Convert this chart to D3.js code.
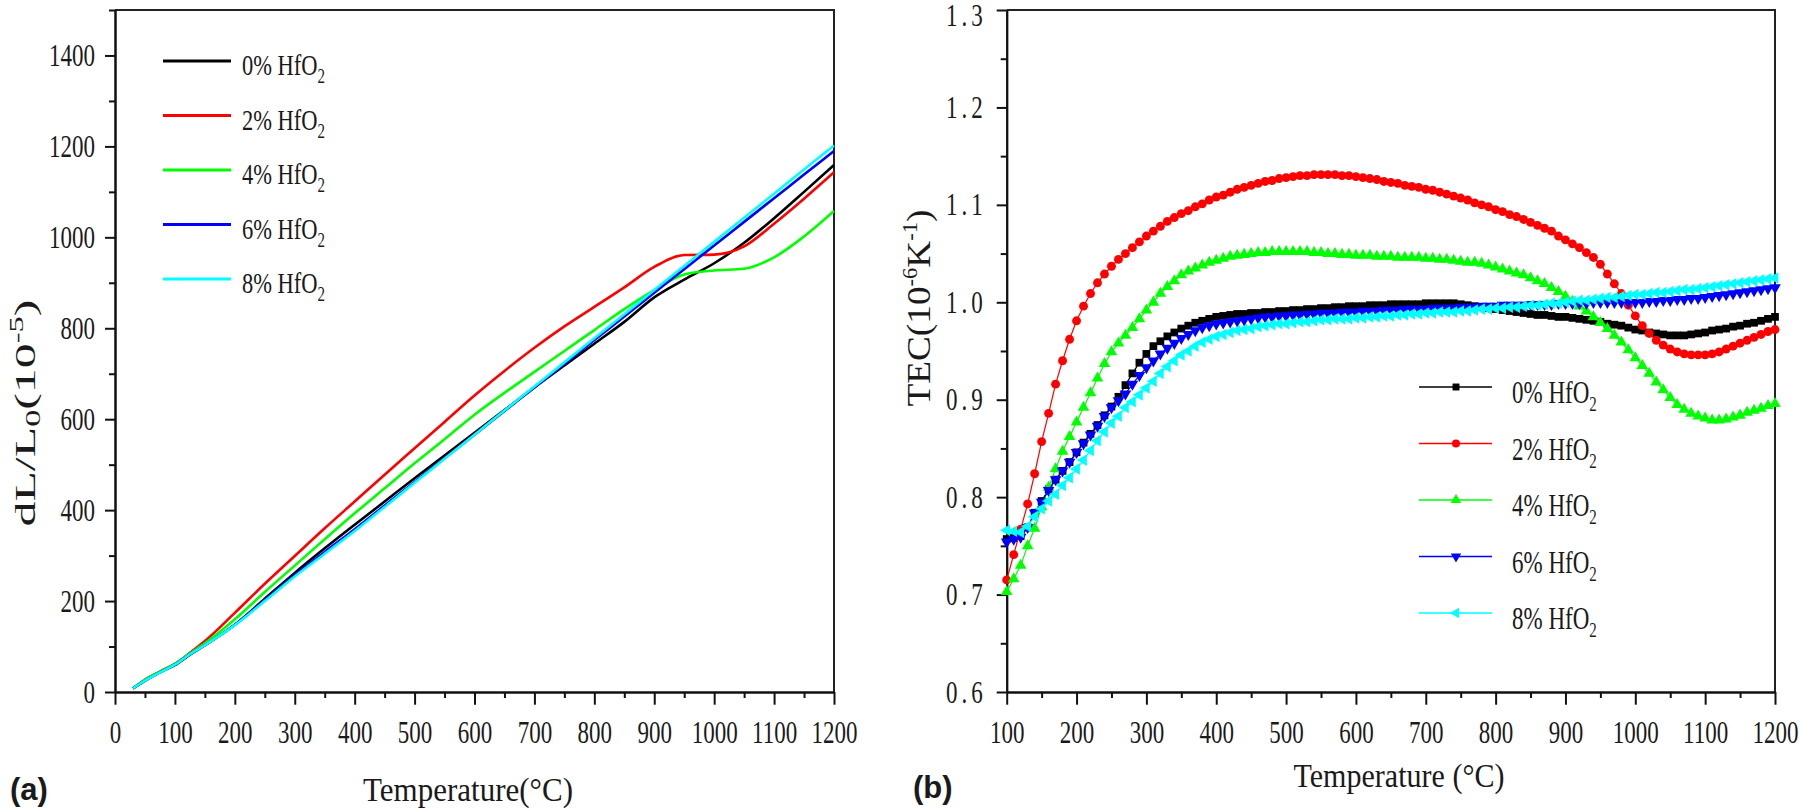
<!DOCTYPE html>
<html><head><meta charset="utf-8">
<script src="https://cdn.jsdelivr.net/npm/d3@7"></script>
<style>
body{margin:0;background:#fff}
svg text{font-family:"Liberation Serif","Times New Roman",serif;fill:#1a1a1a}
.sy{transform-box:fill-box;transform-origin:50% 50%;transform:scaleY(1.35)}
</style></head>
<body><svg id="chart" width="1800" height="810"></svg>
<script>
// ---------- DATA ----------
const seriesNames = ["0% HfO", "2% HfO", "4% HfO", "6% HfO", "8% HfO"];
const seriesColors = ["#000000", "#ff0000", "#00ff00", "#0000ff", "#00ffff"];

// Panel (a): dL/L0 (10^-5) vs temperature
const tempA = [30,50,75,100,125,150,200,250,300,350,400,450,500,550,600,650,700,750,800,850,900,950,1000,1050,1100,1150,1200];
const dl0 = [8,25,44,59,82,103,148,205,262,316,368,419,470,520,570,620,670,718,766,814,868,907,943,988,1042,1100,1159];
const dl2 = [8,27,45,62,86,112,174,238,299,360,419,478,536,594,652,706,757,804,847,890,935,961,962,980,1030,1085,1143];
const dl4 = [8,27,45,62,85,107,160,220,278,336,393,448,503,556,610,658,704,750,796,842,884,918,927,931,956,1002,1058];
const dl6 = [8,25,43,60,83,103,148,202,257,308,358,410,462,514,566,618,670,722,774,826,878,930,982,1034,1086,1138,1190];
const dl8 = [8,25,43,60,83,103,147,200,254,304,354,407,460,513,566,619,672,725,778,831,884,937,990,1043,1096,1149,1202];

// Panel (b): TEC (10^-6 K^-1) vs temperature, 100..1200 step 10
const tempB = d3.range(100, 1201, 10);
const tec0 = [0.757,0.758,0.760,0.769,0.784,0.796,0.808,0.818,0.827,0.836,
0.846,0.856,0.865,0.874,0.884,0.893,0.903,0.915,0.927,0.938,
0.947,0.955,0.960,0.965,0.969,0.973,0.976,0.979,0.981,0.983,
0.985,0.986,0.987,0.988,0.988,0.989,0.989,0.990,0.990,0.991,
0.991,0.992,0.992,0.993,0.993,0.994,0.994,0.995,0.995,0.996,
0.996,0.996,0.997,0.997,0.997,0.998,0.998,0.998,0.998,0.998,
0.999,0.999,0.999,0.999,0.999,0.998,0.997,0.996,0.995,0.994,
0.993,0.992,0.991,0.990,0.989,0.988,0.987,0.987,0.986,0.985,
0.985,0.984,0.983,0.982,0.981,0.980,0.978,0.977,0.976,0.974,
0.972,0.971,0.969,0.968,0.967,0.966,0.966,0.966,0.967,0.968,
0.969,0.971,0.972,0.973,0.975,0.976,0.978,0.979,0.981,0.983,0.985];
const tec2 = [0.715,0.741,0.767,0.793,0.824,0.857,0.886,0.916,0.940,0.962,
0.981,0.996,1.009,1.020,1.029,1.037,1.044,1.050,1.056,1.062,
1.068,1.073,1.078,1.083,1.087,1.091,1.094,1.098,1.101,1.105,
1.108,1.110,1.113,1.116,1.118,1.120,1.122,1.124,1.125,1.127,
1.128,1.129,1.130,1.130,1.131,1.131,1.131,1.131,1.130,1.130,
1.129,1.128,1.127,1.126,1.124,1.123,1.122,1.120,1.119,1.118,
1.116,1.115,1.113,1.111,1.109,1.107,1.105,1.102,1.100,1.098,
1.095,1.093,1.090,1.088,1.085,1.082,1.079,1.076,1.073,1.068,
1.064,1.060,1.056,1.051,1.046,1.039,1.029,1.019,1.009,0.997,
0.986,0.976,0.968,0.961,0.956,0.952,0.949,0.947,0.946,0.946,
0.946,0.947,0.949,0.952,0.955,0.958,0.961,0.964,0.967,0.970,0.972];
const tec4 = [0.703,0.716,0.730,0.750,0.768,0.790,0.810,0.829,0.847,0.862,
0.877,0.892,0.907,0.922,0.937,0.949,0.958,0.966,0.974,0.983,
0.992,1.000,1.009,1.016,1.022,1.028,1.032,1.035,1.038,1.041,
1.043,1.045,1.047,1.048,1.049,1.050,1.051,1.051,1.052,1.052,
1.052,1.052,1.052,1.052,1.051,1.051,1.050,1.050,1.049,1.049,
1.048,1.048,1.048,1.047,1.047,1.047,1.046,1.046,1.046,1.046,
1.045,1.045,1.044,1.044,1.043,1.042,1.041,1.041,1.040,1.038,
1.036,1.034,1.032,1.030,1.028,1.025,1.022,1.019,1.015,1.011,
1.006,1.001,0.996,0.991,0.985,0.979,0.973,0.966,0.959,0.951,
0.943,0.935,0.927,0.918,0.910,0.902,0.895,0.890,0.886,0.883,
0.881,0.879,0.879,0.880,0.882,0.884,0.887,0.889,0.891,0.894,0.896];
const tec6 = [0.754,0.757,0.759,0.769,0.784,0.795,0.807,0.818,0.827,0.836,
0.846,0.855,0.864,0.873,0.883,0.892,0.899,0.906,0.916,0.925,
0.933,0.940,0.947,0.953,0.958,0.963,0.967,0.971,0.974,0.976,
0.978,0.979,0.980,0.981,0.982,0.983,0.984,0.985,0.985,0.986,
0.986,0.987,0.987,0.988,0.988,0.989,0.989,0.989,0.990,0.990,
0.990,0.991,0.991,0.991,0.992,0.992,0.992,0.993,0.993,0.993,
0.993,0.994,0.994,0.994,0.994,0.995,0.995,0.995,0.996,0.996,
0.996,0.997,0.997,0.997,0.997,0.998,0.998,0.998,0.998,0.999,
0.999,0.999,0.999,0.999,1.000,1.000,1.000,1.000,1.000,1.000,
1.000,1.000,1.001,1.001,1.002,1.002,1.003,1.003,1.004,1.004,
1.005,1.006,1.007,1.008,1.009,1.010,1.011,1.012,1.013,1.014,1.015];
const tec8 = [0.766,0.765,0.764,0.770,0.780,0.788,0.796,0.803,0.812,0.820,
0.829,0.838,0.848,0.858,0.867,0.876,0.883,0.892,0.898,0.905,
0.912,0.919,0.927,0.934,0.940,0.946,0.950,0.955,0.959,0.962,
0.965,0.967,0.969,0.971,0.972,0.973,0.975,0.976,0.977,0.978,
0.978,0.979,0.980,0.980,0.981,0.982,0.982,0.983,0.983,0.983,
0.984,0.984,0.985,0.985,0.986,0.986,0.987,0.987,0.988,0.988,
0.989,0.989,0.990,0.990,0.990,0.991,0.991,0.992,0.993,0.993,
0.994,0.994,0.995,0.995,0.996,0.997,0.997,0.998,0.999,0.999,
1.000,1.001,1.002,1.002,1.003,1.004,1.005,1.005,1.006,1.007,
1.008,1.008,1.009,1.010,1.010,1.011,1.012,1.013,1.013,1.014,
1.015,1.016,1.017,1.018,1.019,1.020,1.021,1.022,1.023,1.024,1.025];

// Tick values
const xTicksA = [0,100,200,300,400,500,600,700,800,900,1000,1100,1200];
const xMinorA = [50,150,250,350,450,550,650,750,850,950,1050,1150];
const yTicksA = [0,200,400,600,800,1000,1200,1400];
const yMinorA = [100,300,500,700,900,1100,1300,1500];
const xTicksB = [100,200,300,400,500,600,700,800,900,1000,1100,1200];
const xMinorB = [150,250,350,450,550,650,750,850,950,1050,1150];
const yTicksB = [0.6,0.7,0.8,0.9,1.0,1.1,1.2,1.3];
const yMinorB = [0.65,0.75,0.85,0.95,1.05,1.15,1.25];

// ---------- DRAW ----------
const svg = d3.select("#chart");
const xA = d3.scaleLinear().domain([0,1200]).range([115,834]);
const yA = d3.scaleLinear().domain([0,1500]).range([692,10]);
const xB = d3.scaleLinear().domain([100,1200]).range([1006.7,1775]);
const yB = d3.scaleLinear().domain([0.6,1.3]).range([692,10]);

function drawAxes(x, y, xMaj, xMin, yMaj, yMin, yFmt, spacing) {
  const g = svg.append("g");
  const [x0,x1] = x.range(), [y0,y1] = y.range();
  g.append("path").attr("d", `M${x0},${y1}H${x1}V${y0}`)
    .attr("fill","none").attr("stroke","#222").attr("stroke-width",2);
  const xb = g.append("g").attr("transform",`translate(0,${y0})`)
    .call(d3.axisBottom(x).tickValues(xMaj).tickSize(12.7).tickSizeOuter(0).tickFormat(d3.format("d")));
  g.append("g").attr("transform",`translate(0,${y0})`)
    .call(d3.axisBottom(x).tickValues(xMin).tickSize(6).tickSizeOuter(0).tickFormat(""));
  const yl = g.append("g").attr("transform",`translate(${x0},0)`)
    .call(d3.axisLeft(y).tickValues(yMaj).tickSize(10).tickPadding(10).tickSizeOuter(0).tickFormat(yFmt));
  g.append("g").attr("transform",`translate(${x0},0)`)
    .call(d3.axisLeft(y).tickValues(yMin).tickSize(6).tickSizeOuter(0).tickFormat(""));
  g.selectAll(".domain, .tick line").attr("stroke","#111").attr("stroke-width",2);
  xb.selectAll("text").attr("y",40).attr("dy","0.35em").attr("class","sy")
    .style("font-size","23px").style("font-family","'Liberation Serif',serif").attr("fill","#222");
  yl.selectAll("text").attr("class","sy").style("font-size","23px")
    .style("font-family","'Liberation Serif',serif").attr("fill","#222")
    .style("letter-spacing", spacing)
    .attr("dy", d => (d === y.domain()[1] ? "0.55em" : "0.32em"));
}

drawAxes(xA, yA, xTicksA, xMinorA, yTicksA, yMinorA, d3.format("d"), "0px");
drawAxes(xB, yB, xTicksB, xMinorB, yTicksB, yMinorB, d3.format(".1f"), "4px");

// Panel (a) lines
const dlSeries = [dl0, dl2, dl4, dl6, dl8];
const lineA = d3.line().x(d => xA(d[0])).y(d => yA(d[1])).curve(d3.curveMonotoneX);
dlSeries.forEach((vals, i) => {
  svg.append("path").datum(tempA.map((t, j) => [t, vals[j]]))
    .attr("d", lineA).attr("fill","none").attr("stroke", seriesColors[i])
    .attr("stroke-width", 2.6).attr("stroke-linejoin","round");
});

// Panel (b) lines + markers
const tecSeries = [tec0, tec2, tec4, tec6, tec8];
const symTypes = [d3.symbolSquare, d3.symbolCircle, d3.symbolTriangle, d3.symbolTriangle, d3.symbolTriangle];
const symRot = [0, 0, 0, 180, -90];
const symSize = [60, 62, 58, 58, 58];
const lineB = d3.line().x(d => xB(d[0])).y(d => yB(d[1]));
tecSeries.forEach((vals, i) => {
  const pts = tempB.map((t, j) => [t, vals[j]]);
  const g = svg.append("g");
  g.append("path").datum(pts).attr("d", lineB).attr("fill","none")
    .attr("stroke", seriesColors[i]).attr("stroke-width", 1.2);
  g.selectAll("path.m").data(pts).join("path").attr("class","m")
    .attr("d", d3.symbol().type(symTypes[i]).size(symSize[i]))
    .attr("transform", d => `translate(${xB(d[0])},${yB(d[1])}) rotate(${symRot[i]})`)
    .attr("fill", seriesColors[i]);
});

// Legend (a)
seriesNames.forEach((name, i) => {
  const ly = 61 + i * 54.5;
  svg.append("line").attr("x1",163).attr("x2",231).attr("y1",ly).attr("y2",ly)
    .attr("stroke", seriesColors[i]).attr("stroke-width",3);
  const t = svg.append("g").attr("transform",`translate(242,${ly+14}) scale(1,1.35)`)
    .append("text").style("font-size","22.5px");
  t.append("tspan").text(name);
  t.append("tspan").attr("dy",6).style("font-size","15px").text("2");
});

// Legend (b)
seriesNames.forEach((name, i) => {
  const ly = 387 + i * 56.5;
  svg.append("line").attr("x1",1419).attr("x2",1492).attr("y1",ly).attr("y2",ly)
    .attr("stroke", seriesColors[i]).attr("stroke-width",1.5);
  svg.append("path").attr("d", d3.symbol().type(symTypes[i]).size(symSize[i]*0.8))
    .attr("transform",`translate(1456,${ly}) rotate(${symRot[i]})`).attr("fill", seriesColors[i]);
  const t = svg.append("g").attr("transform",`translate(1512,${ly+16}) scale(1,1.35)`)
    .append("text").style("font-size","23px");
  t.append("tspan").text(name);
  t.append("tspan").attr("dy",6).style("font-size","15px").text("2");
});

// Axis titles
svg.append("g").attr("transform","translate(468,801) scale(1,1.12)")
  .append("text").attr("text-anchor","middle").style("font-size","30px")
  .attr("textLength",210).attr("lengthAdjust","spacingAndGlyphs").text("Temperature(°C)");
svg.append("g").attr("transform","translate(1399,787) scale(1,1.12)")
  .append("text").attr("text-anchor","middle").style("font-size","30px")
  .attr("textLength",211).attr("lengthAdjust","spacingAndGlyphs").text("Temperature (°C)");

const ytA = svg.append("g").attr("transform","translate(35,413) rotate(-90)")
  .append("text").attr("text-anchor","middle").style("font-size","29px")
  .attr("textLength",227).attr("lengthAdjust","spacingAndGlyphs");
ytA.append("tspan").text("dL/L");
ytA.append("tspan").attr("dy",5).style("font-size","20px").text("0");
ytA.append("tspan").attr("dy",-5).text("(10");
ytA.append("tspan").attr("dy",-12).style("font-size","19px").text("-5");
ytA.append("tspan").attr("dy",12).text(")");

const ytB = svg.append("g").attr("transform","translate(930,308) rotate(-90)")
  .append("text").attr("text-anchor","middle").style("font-size","33px")
  .attr("textLength",197).attr("lengthAdjust","spacingAndGlyphs");
ytB.append("tspan").text("TEC(10");
ytB.append("tspan").attr("dy",-13).style("font-size","20px").text("-6");
ytB.append("tspan").attr("dy",13).text("K");
ytB.append("tspan").attr("dy",-13).style("font-size","20px").text("-1");
ytB.append("tspan").attr("dy",13).text(")");

// Panel labels
svg.append("text").attr("x",10).attr("y",800).style("font-family","'Liberation Sans',Arial,sans-serif")
  .style("font-weight","bold").style("font-size","31px").attr("fill","#000").text("(a)");
svg.append("text").attr("x",913).attr("y",798).style("font-family","'Liberation Sans',Arial,sans-serif")
  .style("font-weight","bold").style("font-size","31px").attr("fill","#000").text("(b)");
</script>
</body></html>
